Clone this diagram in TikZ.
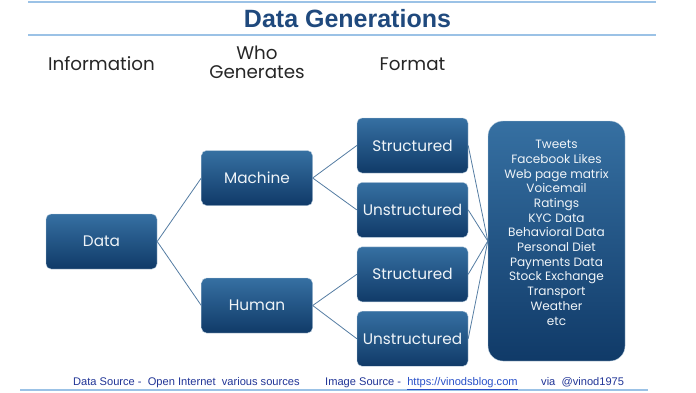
\documentclass[tikz,border=0pt]{standalone}
\usepackage{fontspec}
\setmainfont{Liberation Sans}
\newfontfamily\gothic{Poppins}
\definecolor{TitleBlue}{RGB}{31, 73, 125}
\definecolor{BoxTop}{RGB}{54, 112, 162}
\definecolor{BoxBottom}{RGB}{16, 58, 104}
\definecolor{LinkBlue}{RGB}{84, 124, 162}
\definecolor{RuleBlue}{RGB}{155, 194, 230}
\definecolor{FootBlue}{RGB}{32, 52, 150}
\definecolor{UrlBlue}{RGB}{40, 80, 200}
\usetikzlibrary{positioning}

\begin{document}
\begin{tikzpicture}[
    x=1pt, y=1pt,
    every node/.style={align=center},
    box/.style={draw=white!65!BoxTop, top color=BoxTop, bottom color=BoxBottom,
                rounded corners=5pt, text=white!92!BoxTop, inner sep=0pt,
                minimum width=111pt, minimum height=55pt,
                font=\gothic\fontsize{15.3}{18}\selectfont},
    head/.style={font=\gothic\fontsize{18.3}{19}\selectfont, text=black!85},
    link/.style={draw=LinkBlue, line width=0.8pt},
    rule/.style={draw=RuleBlue, line width=1.2pt},
    foot/.style={font=\fontsize{11.1}{13}\selectfont, text=FootBlue,
                 anchor=base west, inner sep=0pt}
]
\useasboundingbox (0,0) rectangle (696,-392);

% rules and title
\draw[rule] (28,-2) -- (656,-2);
\draw[rule] (28,-35) -- (656,-35);
\draw[rule] (20,-390) -- (648,-390);
\node[font=\bfseries\fontsize{25}{28}\selectfont, text=TitleBlue] (title) at (347.5,-19) {Data Generations};

% column heads
\node[head, anchor=base] (hinfo) at (101.5,-70) {Information};
\node[head, anchor=base] (hwho) at (257,-78) {Who\\Generates};
\node[head, anchor=base] (hformat) at (412.5,-70) {Format};

% tree
\node[box] (data) at (101.5,-241.5) {Data};
\node[box] (machine) at (257,-178) {Machine};
\node[box] (human) at (257,-305.5) {Human};
\node[box] (ms) at (412.5,-145.5) {Structured};
\node[box, below=9pt of ms] (mu) {Unstructured};
\node[box, below=9pt of mu] (hs) {Structured};
\node[box, below=9pt of hs] (hu) {Unstructured};
\node[box, rounded corners=15pt, minimum width=137pt, minimum height=240pt,
      font=\gothic\fontsize{12.1}{14.7}\selectfont] (examples) at (556.5,-241)
    {Tweets\\Facebook Likes\\Web page matrix\\Voicemail\\Ratings\\KYC Data\\
     Behavioral Data\\Personal Diet\\Payments Data\\Stock Exchange\\Transport\\
     Weather\\etc\\[2pt]};

\draw[link] (data.east) -- (machine.west);
\draw[link] (data.east) -- (human.west);
\draw[link] (machine.east) -- (ms.west);
\draw[link] (machine.east) -- (mu.west);
\draw[link] (human.east) -- (hs.west);
\draw[link] (human.east) -- (hu.west);
\draw[link] (ms.east) -- (examples.west);
\draw[link] (mu.east) -- (examples.west);
\draw[link] (hs.east) -- (examples.west);
\draw[link] (hu.east) -- (examples.west);

% footer
\node[foot] (datasrc) at (73,-385) {Data Source -\ \ Open Internet\ \ various sources};
\node[foot] (imgsrc) at (325,-385) {Image Source -\ \ \textcolor{UrlBlue}{\underline{https://vinodsblog.com}}};
\node[foot] (via) at (541,-385) {via\ \ @vinod1975};
\end{tikzpicture}
\end{document}
